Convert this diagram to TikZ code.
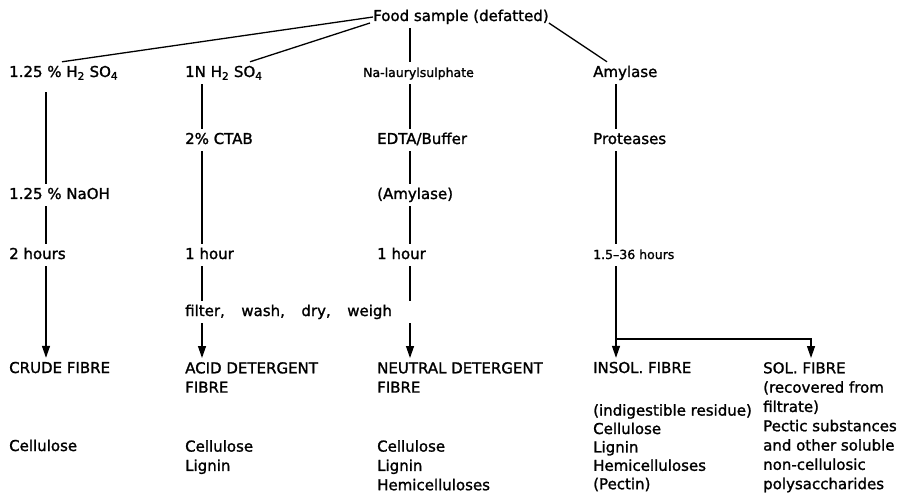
\documentclass[tikz,border=0pt]{standalone}
\usepackage{fontspec}
\setmainfont{DejaVu Sans}[FakeBold=1.4]
\usetikzlibrary{arrows.meta}
\tikzset{
  lbl/.style={font=\fontsize{15}{19}\selectfont, inner xsep=0pt, inner ysep=4pt, text height=11pt, text depth=3pt, anchor=base west},
  blk/.style={font=\fontsize{15}{19.3}\selectfont, inner xsep=0pt, inner ysep=4pt, align=left, anchor=north west},
  sml/.style={lbl, font=\fontsize{12.5}{15}\selectfont},
  flow/.style={line width=1.3pt},
  arr/.style={flow, -{Triangle[length=12pt,width=8pt]}},
}
\begin{document}
\begin{tikzpicture}[x=1pt,y=-1pt]
\useasboundingbox (0,0) rectangle (904,494);
% columns
\coordinate (c1) at (46,0);
\coordinate (c2) at (202,0);
\coordinate (c3) at (410,0);
\coordinate (c4) at (616,0);
\coordinate (c5) at (811,0);
\coordinate (fork) at (616,339);
% steps
\node[lbl] (food) at (373,21) {Food sample (defatted)};
\node[lbl] (acid1) at (9,77) {1.25 \% H\textsubscript{2} SO\textsubscript{4}};
\node[lbl] (acid2) at (185,77) {1N H\textsubscript{2} SO\textsubscript{4}};
\node[sml] (nals) at (363,77) {Na-laurylsulphate};
\node[lbl] (amyl) at (593,77) {Amylase};
\node[lbl] (ctab) at (185,144) {2\% CTAB};
\node[lbl] (edta) at (377,144) {EDTA/Buffer};
\node[lbl] (prot) at (593,144) {Proteases};
\node[lbl] (naoh) at (9,199) {1.25 \% NaOH};
\node[lbl] (amyl2) at (377,199) {(Amylase)};
\node[lbl] (hrsA) at (9,259) {2 hours};
\node[lbl] (hrsB) at (185,259) {1 hour};
\node[lbl] (hrsC) at (377,259) {1 hour};
\node[sml] (hrsD) at (593,259) {1.5--36 hours};
\node[lbl] (filt) at (185,316) {filter,\hspace{1.1em}wash,\hspace{1.1em}dry,\hspace{1.1em}weigh};
% fibres (blocks placed by their top edge)
\node[lbl] (crude) at (9,373) {CRUDE FIBRE};
\node[blk] (adf) at (185,358) {ACID DETERGENT\\FIBRE};
\node[blk] (ndf) at (377,358) {NEUTRAL DETERGENT\\FIBRE};
\node[lbl] (insol) at (593,373) {INSOL. FIBRE};
\node[blk] (sol) at (763,358) {SOL. FIBRE\\(recovered from\\filtrate)\\Pectic substances\\and other soluble\\non-cellulosic\\polysaccharides};
% components
\node[lbl] (cmpA) at (9,451) {Cellulose};
\node[blk] (cmpB) at (185,436) {Cellulose\\Lignin};
\node[blk] (cmpC) at (377,436) {Cellulose\\Lignin\\Hemicelluloses};
\node[blk, font=\fontsize{15}{18.4}\selectfont] (cmpD) at (593,400) {(indigestible residue)\\Cellulose\\Lignin\\Hemicelluloses\\(Pectin)};
% connectors
\draw[flow] (food.west) -- ([xshift=53pt]acid1.north west);
\draw[flow] ([xshift=-3pt,yshift=-6pt]food.west) -- ([xshift=65pt]acid2.north west);
\draw[flow] ([yshift=-6pt]food.east) -- ([xshift=14pt]amyl.north west);
\draw[flow] ([yshift=-8pt]acid1.south -| c1) -- (naoh.north -| c1);
\draw[flow] (naoh.south -| c1) -- (hrsA.north -| c1);
\draw[arr] (hrsA.south -| c1) -- (crude.north -| c1);
\draw[flow] (acid2.south -| c2) -- (ctab.north -| c2);
\draw[flow] (ctab.south -| c2) -- (hrsB.north -| c2);
\draw[flow] (hrsB.south -| c2) -- (filt.north -| c2);
\draw[arr] (filt.south -| c2) -- (adf.north -| c2);
\draw[flow] (food.south -| c3) -- (nals.north -| c3);
\draw[flow] (nals.south -| c3) -- (edta.north -| c3);
\draw[flow] (edta.south -| c3) -- (amyl2.north -| c3);
\draw[flow] (amyl2.south -| c3) -- (hrsC.north -| c3);
\draw[flow] (hrsC.south -| c3) -- (filt.north -| c3);
\draw[arr] (filt.south -| c3) -- (ndf.north -| c3);
\draw[flow] (amyl.south -| c4) -- (prot.north -| c4);
\draw[flow] (prot.south -| c4) -- (hrsD.north -| c4);
\draw[arr] (hrsD.south -| c4) -- (insol.north -| c4);
\draw[arr] (fork) -| (sol.north -| c5);
\end{tikzpicture}
\end{document}
